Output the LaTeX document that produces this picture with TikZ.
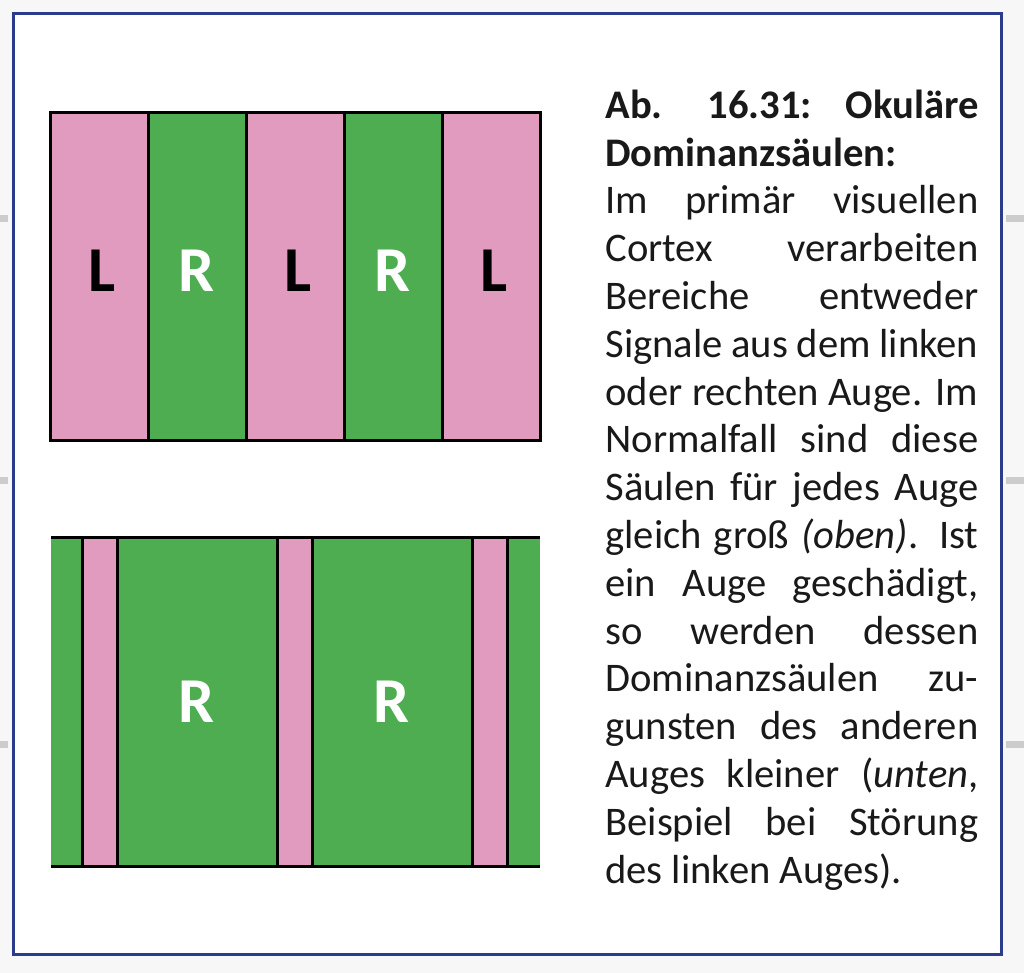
\documentclass[tikz,border=0pt]{standalone}
\usepackage{fontspec}
\setmainfont{Carlito}
\usetikzlibrary{positioning, calc}
\definecolor{colpink}{RGB}{224,155,190}
\definecolor{colgreen}{RGB}{77,173,80}
\definecolor{frameblue}{RGB}{42,61,140}
\definecolor{pagegrey}{RGB}{247,247,247}
\definecolor{markgrey}{RGB}{204,204,204}

\begin{document}
\begin{tikzpicture}[x=0.5pt, y=-0.5pt,
        column/.style={rectangle, draw, line width=1.5pt, inner sep=0pt, outer sep=0pt, minimum width=49pt, minimum height=164pt},
        lcol/.style={column, fill=colpink},
        rcol/.style={column, fill=colgreen},
        stripe/.style={rectangle, draw, line width=1.5pt, fill=colpink, inner sep=0pt, outer sep=0pt, minimum width=17.5pt, minimum height=164pt},
        letter/.style={font=\fontsize{32}{32}\selectfont\bfseries, inner sep=0pt},
        ltext/.style={letter, text=black, yshift=3.2pt, xshift=1.5pt},
        rtext/.style={letter, text=white},
        edge/.style={draw, line width=1.5pt},
        framebox/.style={draw=frameblue, line width=1.5pt, fill=white},
        sidetick/.style={fill=markgrey},
        caption/.style={anchor=north west, inner sep=0pt, text width=186.5pt, align=justify, font=\fontsize{20.3}{23.9}\selectfont, text=black!90}]

        \fill[pagegrey] (0,0) rectangle (1024,973);
        \useasboundingbox (0,0) rectangle (1024,973);
        \fill[sidetick] (0,215.5) rectangle (8,222.5);
        \fill[sidetick] (0,477.5) rectangle (8,484.5);
        \fill[sidetick] (0,740.5) rectangle (8,747.5);
        \fill[sidetick] (1006,215.5) rectangle (1024,222.5);
        \fill[sidetick] (1006,477.5) rectangle (1024,484.5);
        \fill[sidetick] (1006,740.5) rectangle (1024,747.5);
        \path[framebox] (13.5,13.5) rectangle (1001.5,954.5);

        \node [lcol, label={[ltext]center:L}] (top1) at (99,277) {};
        \node [rcol, label={[yshift=3.2pt, rtext]center:R}, right=0pt of top1] (top2) {};
        \node [lcol, label={[ltext]center:L}, right=0pt of top2] (top3) {};
        \node [rcol, label={[yshift=3.2pt, rtext]center:R}, right=0pt of top3] (top4) {};
        \node [lcol, label={[ltext]center:L}, right=0pt of top4] (top5) {};

        \node [rectangle, fill=colgreen, inner sep=0pt, outer sep=0pt, minimum width=244.5pt, minimum height=164pt] (lower) at (295.5,702) {};
        \node [stripe] (strip1) at (99.5,702) {};
        \node [stripe, right=80pt of strip1] (strip2) {};
        \node [stripe, right=80pt of strip2] (strip3) {};
        \path [edge] (lower.north west) -- (lower.north east);
        \path [edge] (lower.south west) -- (lower.south east);
        \node [rtext] (low1) at ($(strip1)!0.5!(strip2)$) {R};
        \node [rtext] (low2) at ($(strip2)!0.5!(strip3)$) {R};

        \node [caption] (legend) at (605,84.5) {\strut\textbf{Ab. 16.31: Okuläre\linebreak
            Dominanzsäulen:}\\
            Im primär visuellen\linebreak
            Cortex verarbeiten\linebreak
            Bereiche entweder\linebreak
            Signale aus dem linken\linebreak
            oder rechten Auge. Im\linebreak
            Normalfall sind diese\linebreak
            Säulen für jedes Auge\linebreak
            gleich groß \textit{(oben)}. Ist\linebreak
            ein Auge geschädigt,\linebreak
            so werden dessen\linebreak
            Dominanzsäulen zu-\linebreak
            gunsten des anderen\linebreak
            Auges kleiner (\textit{unten},\linebreak
            Beispiel bei Störung\linebreak
            des linken Auges).};

    \end{tikzpicture}
\end{document}
